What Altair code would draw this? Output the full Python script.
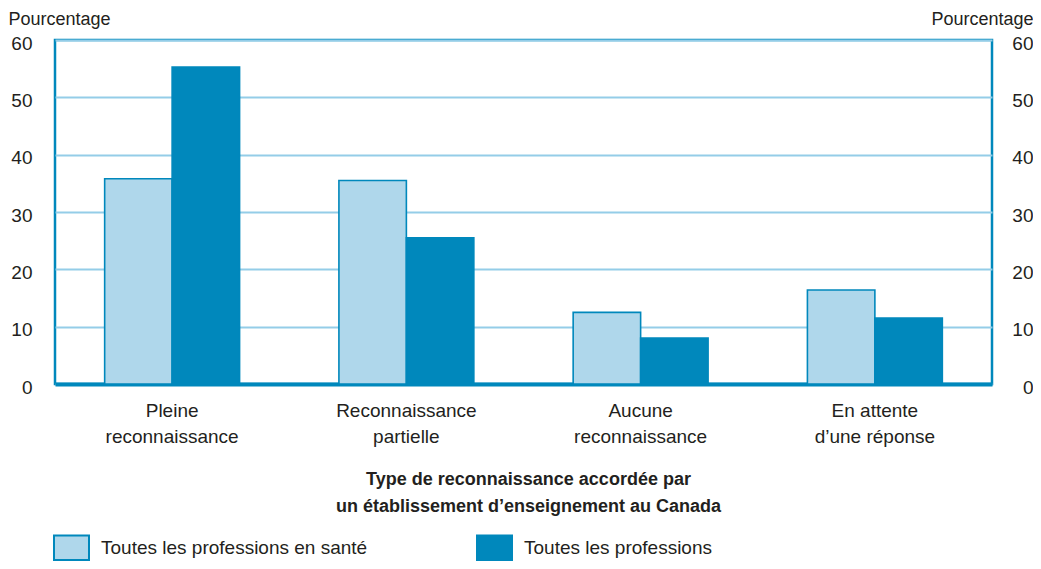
import altair as alt
import pandas as pd

categories = ["Pleine|reconnaissance", "Reconnaissance|partielle", "Aucune|reconnaissance", "En attente|d’une réponse"]
series = ["Toutes les professions en santé", "Toutes les professions"]
sante = [35.8, 35.5, 12.5, 16.4]
toutes = [55.3, 25.5, 8.0, 11.5]

rows = []
for i, c in enumerate(categories):
    rows.append({"cat": c, "serie": series[0], "val": sante[i]})
    rows.append({"cat": c, "serie": series[1], "val": toutes[i]})
df = pd.DataFrame(rows)

LIGHT = "#afd7eb"
DARK = "#0088bc"
GRID = "#94cde8"
FONT = "Liberation Sans"
TXT = "#231f20"


def xenc():
    return alt.X("cat:N", sort=categories,
                 scale=alt.Scale(paddingInner=0.424, paddingOuter=0.212),
                 axis=alt.Axis(orient="bottom", labelExpr="split(datum.label, '|')",
                               labelAngle=0, labelFontSize=19, labelFont=FONT, labelColor=TXT,
                               labelLineHeight=26, labelPadding=17, labelBaseline="top",
                               ticks=False, tickSize=0, domainColor=DARK, domainWidth=4,
                               title=["Type de reconnaissance accordée par",
                                      "un établissement d’enseignement au Canada"],
                               titleFont=FONT, titleFontSize=18, titleFontWeight="bold",
                               titleColor=TXT, titleLineHeight=27, titleAlign="center",
                               titleBaseline="alphabetic", titleX=473, titleY=100))


yscale = alt.Scale(domain=[0, 60], nice=False)

bars = alt.Chart(df).mark_bar(strokeWidth=1.6).encode(
    x=xenc(),
    xOffset=alt.XOffset("serie:N", sort=series, scale=alt.Scale(paddingInner=0, paddingOuter=0)),
    y=alt.Y("val:Q", scale=yscale,
            axis=alt.Axis(orient="left", values=[0, 10, 20, 30, 40, 50, 60], grid=True,
                          gridColor=GRID, gridWidth=2, domain=False, ticks=False, tickSize=0,
                          labelFont=FONT, labelFontSize=19, labelColor=TXT, labelPadding=23,
                          labelOffset=3,
                          title="Pourcentage", titleAngle=0, titleAlign="left",
                          titleBaseline="alphabetic", titleX=-47, titleY=-16,
                          titleFont=FONT, titleFontSize=18, titleFontWeight="normal",
                          titleColor=TXT)),
    fill=alt.Fill("serie:N", sort=series,
                  scale=alt.Scale(domain=series, range=[LIGHT, DARK]),
                  legend=alt.Legend(orient="none", legendX=-2, legendY=489, direction="horizontal",
                                    columns=2, columnPadding=105, title=None,
                                    symbolType="M-1,-0.7H1V0.7H-1Z", symbolSize=1225,
                                    symbolStrokeColor=DARK, symbolStrokeWidth=2,
                                    labelFont=FONT, labelFontSize=19, labelColor=TXT,
                                    labelOffset=11, labelLimit=400, padding=0)),
    stroke=alt.Stroke("serie:N", sort=series,
                      scale=alt.Scale(domain=series, range=[DARK, DARK]), legend=None),
)

axis_right = alt.Chart(df).mark_bar(opacity=0).encode(
    x=xenc(),
    y=alt.Y("val:Q", scale=yscale,
            axis=alt.Axis(orient="right", values=[0, 10, 20, 30, 40, 50, 60], grid=False,
                          domain=False, ticks=False, tickSize=0,
                          labelFont=FONT, labelFontSize=19, labelColor=TXT, labelPadding=41,
                          labelAlign="right", labelOffset=3,
                          title="Pourcentage", titleAngle=0, titleAlign="right",
                          titleBaseline="alphabetic", titleX=41, titleY=-16,
                          titleFont=FONT, titleFontSize=18, titleFontWeight="normal",
                          titleColor=TXT)),
)

chart = alt.layer(bars, axis_right).resolve_axis(y="independent").properties(
    width=937, height=344,
    background="white",
    autosize=alt.AutoSizeParams(type="none"),
    padding={"left": 47, "top": 32, "right": 41, "bottom": 177},
).configure_view(stroke=DARK, strokeWidth=2.5)

chart.save("out.html", embed_options={"renderer": "svg", "actions": False})
